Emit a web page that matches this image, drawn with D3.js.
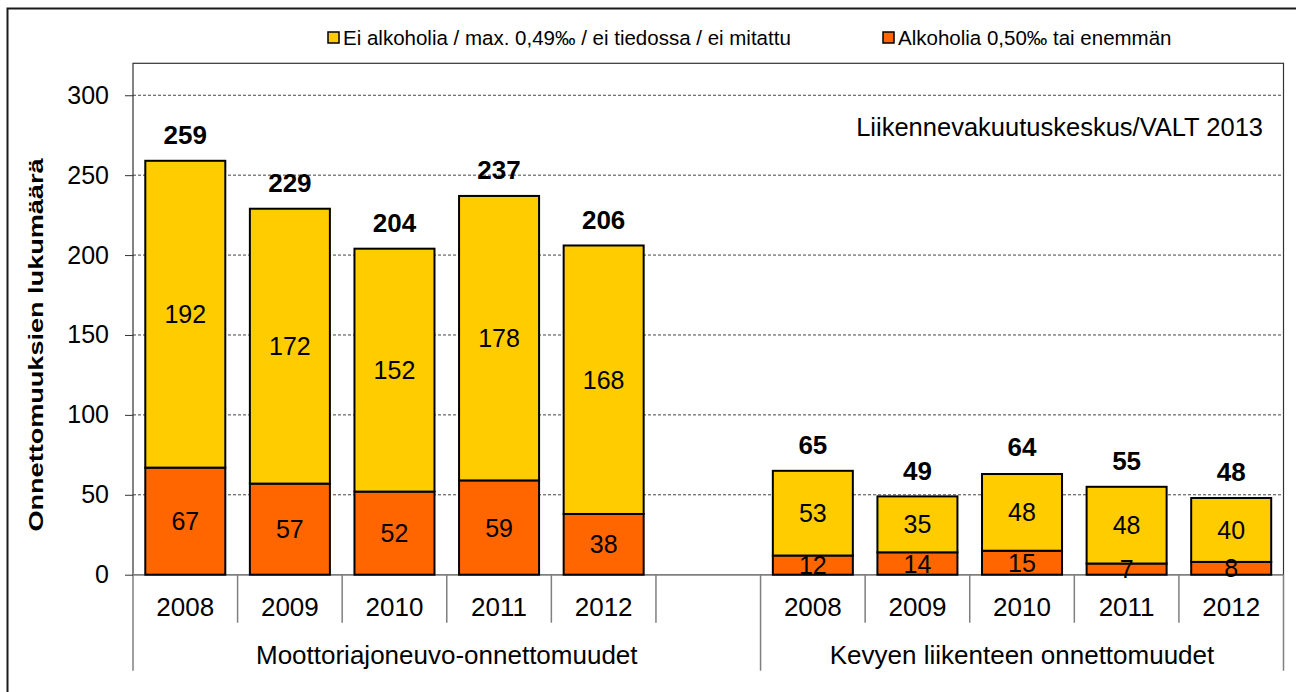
<!DOCTYPE html>
<html>
<head>
<meta charset="utf-8">
<script src="https://cdn.jsdelivr.net/npm/d3@7"></script>
<style>
body { margin: 0; background: #fff; }
svg { font-family: Arial, "Liberation Sans", sans-serif; }
</style>
</head>
<body>
<svg class="chart" width="1296" height="692"></svg>
<script>
// data
var years = ["2008", "2009", "2010", "2011", "2012"];
var groups = ["Moottoriajoneuvo-onnettomuudet", "Kevyen liikenteen onnettomuudet"];
var seriesNames = ["Ei alkoholia / max. 0,49\u2030 / ei tiedossa / ei mitattu", "Alkoholia 0,50\u2030 tai enemm\u00e4n"];
var motorNoAlc = [192, 172, 152, 178, 168];
var motorAlc = [67, 57, 52, 59, 38];
var motorTotal = [259, 229, 204, 237, 206];
var lightNoAlc = [53, 35, 48, 48, 40];
var lightAlc = [12, 14, 15, 7, 8];
var lightTotal = [65, 49, 64, 55, 48];
var yTicks = [0, 50, 100, 150, 200, 250, 300];
var yTitle = "Onnettomuuksien lukum\u00e4\u00e4r\u00e4";
var sourceNote = "Liikennevakuutuskeskus/VALT 2013";

var colors = {noAlc: "#FFCC00", alc: "#FF6600"};

var svg = d3.select(".chart"),
    margin = {top: 63.3, left: 133},
    width = 1150.5,
    height = 511.4,
    g = svg.append("g").attr("transform", "translate(" + margin.left + "," + margin.top + ")");

// slots: 5 motor years, one empty slot, 5 light traffic years
var slots = years.map(function(y) { return "M" + y; })
    .concat(["gap"])
    .concat(years.map(function(y) { return "K" + y; }));

var rows = [];
years.forEach(function(y, i) {
  rows.push({key: "M" + y, year: y, alc: motorAlc[i], noAlc: motorNoAlc[i], total: motorTotal[i]});
});
years.forEach(function(y, i) {
  rows.push({key: "K" + y, year: y, alc: lightAlc[i], noAlc: lightNoAlc[i], total: lightTotal[i]});
});

var x = d3.scaleBand()
    .domain(slots)
    .range([0, width])
    .paddingInner(0.235)
    .paddingOuter(0.1175);

var y = d3.scaleLinear()
    .domain([0, 320])
    .range([height, 0]);

// outer frame
svg.append("rect")
    .attr("x", 7.5).attr("y", 8.5)
    .attr("width", 1300).attr("height", 700)
    .attr("fill", "none")
    .attr("stroke", "#1a1a1a")
    .attr("stroke-width", 2);

// grid
g.append("g")
    .selectAll("line")
    .data(yTicks.filter(function(d) { return d > 0; }))
    .enter().append("line")
    .attr("x1", 0).attr("x2", width)
    .attr("y1", function(d) { return y(d); })
    .attr("y2", function(d) { return y(d); })
    .attr("stroke", "#444")
    .attr("stroke-width", 1)
    .attr("stroke-dasharray", "3,2");

// plot frame
g.append("rect")
    .attr("width", width).attr("height", height)
    .attr("fill", "none")
    .attr("stroke", "#333")
    .attr("stroke-width", 1.2);

// category axis lines under the plot
var step = x.step();
var bounds = d3.range(slots.length + 1);
g.append("g")
    .selectAll("line")
    .data(bounds)
    .enter().append("line")
    .attr("x1", function(i) { return i * step; })
    .attr("x2", function(i) { return i * step; })
    .attr("y1", height)
    .attr("y2", function(i) { return (i === 0 || i === 6 || i === slots.length) ? height + 96 : height + 48; })
    .attr("stroke", "#7f7f7f")
    .attr("stroke-width", 1.5);

g.append("line")
    .attr("x1", 0).attr("x2", width)
    .attr("y1", height).attr("y2", height)
    .attr("stroke", "#7f7f7f")
    .attr("stroke-width", 1.5);

// y axis
var yAxis = g.append("g")
    .call(d3.axisLeft(y).tickValues(yTicks).tickSize(8).tickPadding(16).tickSizeOuter(0));
yAxis.select(".domain").remove();
yAxis.selectAll(".tick line").attr("stroke", "#333");
yAxis.selectAll(".tick text")
    .attr("fill", "#000")
    .style("font-size", "25px")
    .style("font-family", "Arial, 'Liberation Sans', sans-serif");

// stacked bars
var stack = d3.stack().keys(["alc", "noAlc"]);
var layers = stack(rows);

g.selectAll(".layer")
    .data(layers)
    .enter().append("g")
    .attr("class", "layer")
    .attr("fill", function(d) { return colors[d.key]; })
  .selectAll("rect")
    .data(function(d) { return d; })
    .enter().append("rect")
    .attr("x", function(d) { return x(d.data.key); })
    .attr("y", function(d) { return y(d[1]); })
    .attr("width", x.bandwidth())
    .attr("height", function(d) { return y(d[0]) - y(d[1]); })
    .attr("stroke", "#000")
    .attr("stroke-width", 2);

// segment labels
layers.forEach(function(layer) {
  g.append("g")
    .selectAll("text")
    .data(layer)
    .enter().append("text")
    .attr("x", function(d) { return x(d.data.key) + x.bandwidth() / 2; })
    .attr("y", function(d) { return (y(d[0]) + y(d[1])) / 2; })
    .attr("dy", "0.36em")
    .attr("text-anchor", "middle")
    .style("font-size", "25px")
    .text(function(d) { return d.data[layer.key]; });
});

// totals
g.append("g")
    .selectAll("text")
    .data(rows)
    .enter().append("text")
    .attr("x", function(d) { return x(d.key) + x.bandwidth() / 2; })
    .attr("y", function(d) { return y(d.total) - 16.5; })
    .attr("text-anchor", "middle")
    .style("font-size", "26px")
    .style("font-weight", "bold")
    .text(function(d) { return d.total; });

// year labels
g.append("g")
    .selectAll("text")
    .data(rows)
    .enter().append("text")
    .attr("x", function(d) { return x(d.key) + x.bandwidth() / 2; })
    .attr("y", height + 41)
    .attr("text-anchor", "middle")
    .style("font-size", "26px")
    .text(function(d) { return d.year; });

// group labels
g.append("g")
    .selectAll("text")
    .data(groups)
    .enter().append("text")
    .attr("x", function(d, i) { return i === 0 ? 3 * step : 8.5 * step; })
    .attr("y", height + 89.5)
    .attr("text-anchor", "middle")
    .style("font-size", "26px")
    .text(function(d) { return d; });

// source note
g.append("text")
    .attr("x", 1263 - margin.left)
    .attr("y", 136 - margin.top)
    .attr("text-anchor", "end")
    .style("font-size", "25.5px")
    .text(sourceNote);

// y title
svg.append("text")
    .attr("transform", "translate(43,345) rotate(-90)")
    .attr("text-anchor", "middle")
    .attr("textLength", 373)
    .attr("lengthAdjust", "spacingAndGlyphs")
    .style("font-size", "21px")
    .style("font-weight", "bold")
    .text(yTitle);

// legend
var legendX = [328, 883];
var legend = svg.append("g")
    .selectAll("g")
    .data(seriesNames)
    .enter().append("g")
    .attr("transform", function(d, i) { return "translate(" + legendX[i] + ",32)"; });

legend.append("rect")
    .attr("width", 11).attr("height", 11)
    .attr("fill", function(d, i) { return i === 0 ? colors.noAlc : colors.alc; })
    .attr("stroke", "#000")
    .attr("stroke-width", 1.5);

legend.append("text")
    .attr("x", 15)
    .attr("y", 13)
    .style("font-size", "20.5px")
    .text(function(d) { return d; });
</script>
</body>
</html>
